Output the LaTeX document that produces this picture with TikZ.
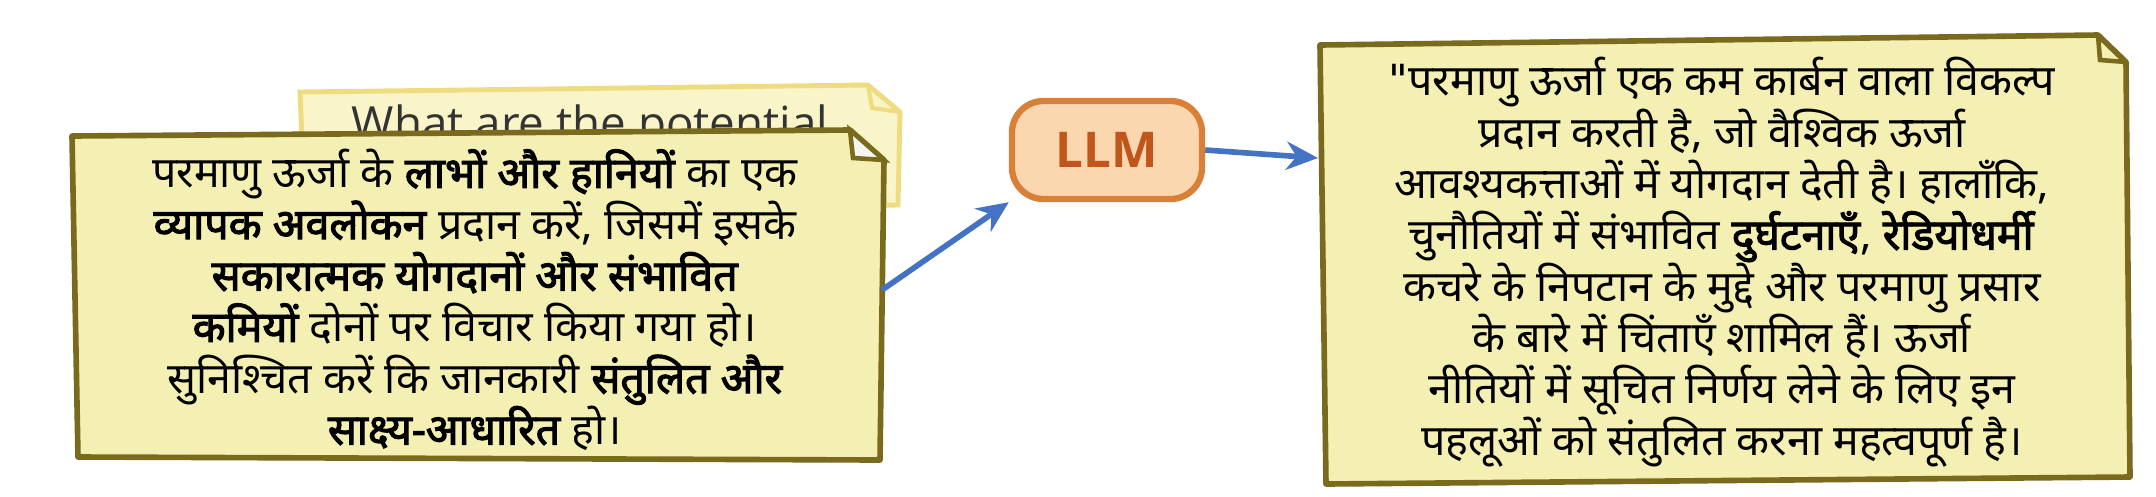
\documentclass[tikz,border=0pt]{standalone}
\usepackage{fontspec}
\setmainfont{Noto Sans}[Script=Devanagari,BoldFont={Noto Sans},BoldFeatures={FakeBold=2.5}]
\newfontfamily\latin{Open Sans}
\newfontfamily\quotefont{DejaVu Sans}[Ligatures=NoCommon]
\usetikzlibrary{arrows.meta}
\definecolor{noteA}{HTML}{F4EFB2}
\definecolor{noteB}{HTML}{FAF5C8}
\definecolor{edgeA}{HTML}{7A6A1E}
\definecolor{edgeB}{HTML}{F0DC80}
\definecolor{llmF}{HTML}{FBD7B0}
\definecolor{llmD}{HTML}{D98038}
\definecolor{llmT}{HTML}{C0561C}
\definecolor{arr}{HTML}{4472C4}
\tikzset{
 note/.style={fill=noteA,draw=edgeA,line width=1.6pt,line join=round},
 txt/.style={align=center,font=\fontsize{12.2}{14.6}\selectfont,text=black},
 conn/.style={draw=arr,line width=1.6pt,-{Stealth[length=9pt,width=8pt]}}
}
\begin{document}
\begin{tikzpicture}[x=0.01cm,y=-0.01cm]
\useasboundingbox (0,0) rectangle (2156,496);
% back note
\draw[fill=noteB,draw=edgeB,line width=1.4pt] (300,92) -- (868,85) -- (900,112) -- (898,205) -- (305,210) -- cycle;
\draw[draw=edgeB,line width=1.2pt] (868,85) -- (872,108) -- (900,112);
\node[font=\latin\fontsize{13}{15}\selectfont,text=black!80] (bq) at (590,128) {What are the potential};
% front note
\draw[note] (72,136) -- (850,130) -- (884,160) -- (880,460) -- (78,457) -- cycle;
\draw[draw=edgeA,line width=1.3pt,fill=noteA!80!black!15] (850,130) -- (853,158) -- (884,160) -- cycle;
\node[txt] (q) at (475,300) {परमाणु ऊर्जा के \textbf{लाभों और हानियों} का एक\\
\textbf{व्यापक अवलोकन} प्रदान करें, जिसमें इसके\\
\textbf{सकारात्मक योगदानों और संभावित}\\
\textbf{कमियों} दोनों पर विचार किया गया हो।\\
सुनिश्चित करें कि जानकारी \textbf{संतुलित और}\\
\textbf{साक्ष्य-आधारित} हो।};
\coordinate (qo) at (882,290);
% LLM
\node[draw=llmD,fill=llmF,line width=1.8pt,rounded corners=9pt,minimum width=1.9cm,minimum height=0.98cm,
 align=center,font=\latin\bfseries\fontsize{14}{16}\selectfont,text=llmT] (llm) at (1107,150) {LLM};
% right note
\draw[note] (1320,45) -- (2098,35) -- (2126,62) -- (2130,477) -- (1326,484) -- cycle;
\draw[draw=edgeA,line width=1.3pt] (2098,35) -- (2100,60) -- (2126,62);
\node[txt] (a) at (1722,262) {{\quotefont\symbol{"22}}परमाणु ऊर्जा एक कम कार्बन वाला विकल्प\\
प्रदान करती है, जो वैश्विक ऊर्जा\\
आवश्यकत्ताओं में योगदान देती है। हालाँकि,\\
चुनौतियों में संभावित \textbf{दुर्घटनाएँ}, \textbf{रेडियोधर्मी}\\
कचरे के निपटान के मुद्दे और परमाणु प्रसार\\
के बारे में चिंताएँ शामिल हैं। ऊर्जा\\
नीतियों में सूचित निर्णय लेने के लिए इन\\
पहलूओं को संतुलित करना महत्वपूर्ण है।};
\draw[conn] (qo) -- (llm.south west);
\draw[conn] (llm.east) -- (1318,158);
\end{tikzpicture}
\end{document}
